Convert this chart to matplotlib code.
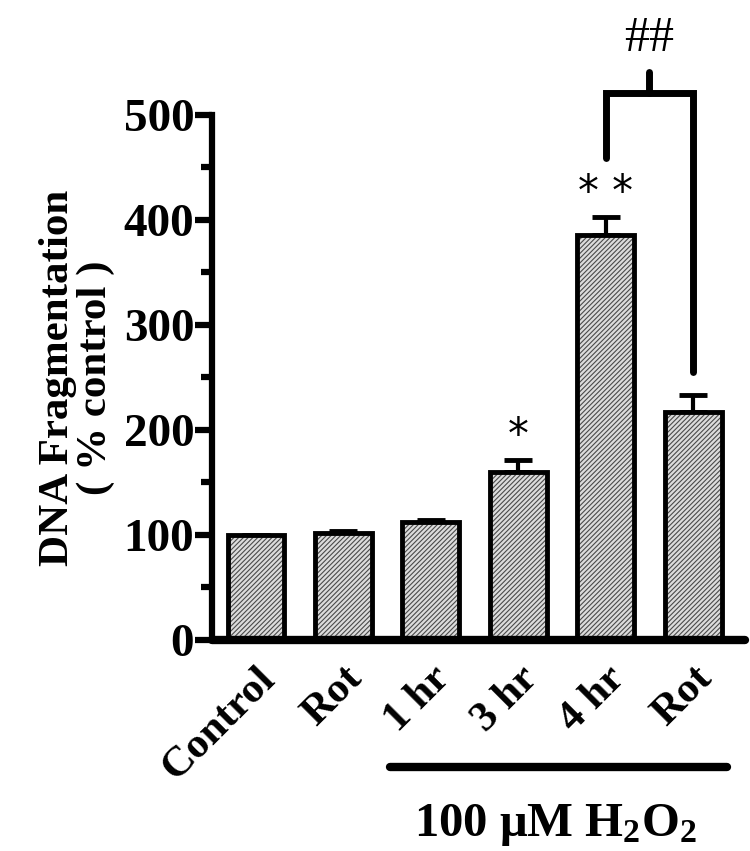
import numpy as np
import matplotlib
matplotlib.use("Agg")
import matplotlib.pyplot as plt

plt.rcParams['font.family'] = ['Liberation Serif', 'DejaVu Serif']
plt.rcParams['font.weight'] = 'bold'
plt.rcParams['mathtext.fontset'] = 'custom'
plt.rcParams['mathtext.rm'] = 'Liberation Serif:bold'
plt.rcParams['mathtext.bf'] = 'Liberation Serif:bold'
plt.rcParams['mathtext.default'] = 'rm'
plt.rcParams['hatch.linewidth'] = 0.8

# data
groups = ['Control', 'Rot', '1 hr', '3 hr', '4 hr', 'Rot']
means = [100, 102, 112, 160, 386, 217]
sem = [0, 2, 2, 11, 17, 16]
stars = ['', '', '', '*', '* *', '']
yticks = [0, 100, 200, 300, 400, 500]

fig = plt.figure(figsize=(7.5, 8.51), dpi=100)
ax = fig.add_axes([0.283, 0.248, 0.710, 0.617])

x = np.arange(len(groups))
# hatched fill, then black outline on top
ax.bar(x, means, width=0.65, color='#dcdcdc', edgecolor='#4a4a4a',
       hatch='///////', linewidth=0, zorder=2)
ax.bar(x, means, width=0.65, color='none', edgecolor='black',
       linewidth=3.5, zorder=3)
ax.errorbar(x, means, yerr=[np.zeros(len(sem)), sem], fmt='none',
            ecolor='black', elinewidth=3, capsize=10, capthick=3.5, zorder=1)

for xi, m, e, s in zip(x, means, sem, stars):
    if s:
        ax.text(xi, m + e + 3, s, ha='center', va='bottom', fontsize=30,
                fontweight='normal', family='DejaVu Sans')

# bracket between 4 hr and Rot
lw = 5
ax.plot([4, 4, 5, 5], [459, 521, 521, 255], color='black', lw=lw,
        solid_capstyle='round', solid_joinstyle='miter', clip_on=False)
ax.plot([4.5, 4.5], [521, 541], color='black', lw=lw,
        solid_capstyle='round', clip_on=False)
ax.text(4.5, 550, '##', ha='center', va='bottom', fontsize=36,
        fontweight='normal', clip_on=False)

ax.set_xlim(-0.5, 5.59)
ax.set_ylim(0, 500)
ax.set_yticks(yticks)
ax.set_yticks(np.arange(50, 500, 100), minor=True)
ax.tick_params(axis='y', which='major', labelsize=34, width=4.5, length=12,
               direction='out', pad=1)
ax.tick_params(axis='y', which='minor', width=4.5, length=8, direction='out')
ax.set_xticks(x)
ax.set_xticklabels(groups, rotation=45, ha='right', rotation_mode='anchor',
                   fontsize=31)
ax.tick_params(axis='x', length=0, pad=14)
for lab in ax.get_yticklabels():
    lab.set_fontweight('bold')

for sp in ['top', 'right']:
    ax.spines[sp].set_visible(False)
ax.spines['left'].set_linewidth(4.5)
ax.spines['bottom'].set_linewidth(6)
ax.spines['bottom'].set_capstyle('round')

ax.set_ylabel('DNA Fragmentation\n( % control )', fontsize=31,
              fontweight='bold', labelpad=6, linespacing=1.0)

# treatment line and label under the H2O2 groups
fig.add_artist(plt.Line2D([0.52, 0.969], [0.099, 0.099], color='black',
                          lw=6, solid_capstyle='round'))
fig.text(0.74, 0.03, '100 \u03bcM H$_2$O$_2$',
         ha='center', va='center', fontsize=35, fontweight='bold')

fig.savefig('out.png', dpi=100)
